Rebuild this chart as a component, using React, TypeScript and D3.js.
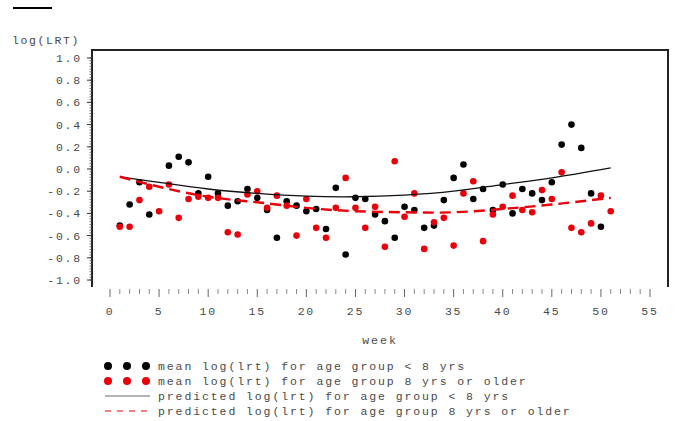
import React from 'react';
import * as d3 from 'd3';

// weekly means of log(lrt)
const weeks = d3.range(1, 52);
const youngMeans = [
  -0.51, -0.32, -0.12, -0.41, null, 0.03, 0.11, 0.06, -0.22, -0.07,
  -0.22, -0.33, -0.29, -0.18, -0.26, -0.37, -0.62, -0.29, -0.33, -0.38,
  -0.36, -0.54, -0.17, -0.77, -0.26, -0.27, -0.41, -0.47, -0.62, -0.34,
  -0.37, -0.53, -0.51, -0.28, -0.08, 0.04, -0.27, -0.18, -0.37, -0.14,
  -0.40, -0.18, -0.22, -0.28, -0.12, 0.22, 0.40, 0.19, -0.22, -0.52, null,
];
const olderMeans = [
  -0.52, -0.52, -0.28, -0.16, -0.38, -0.14, -0.44, -0.27, -0.25, -0.26,
  -0.26, -0.57, -0.59, -0.23, -0.20, -0.35, -0.24, -0.33, -0.60, -0.27,
  -0.53, -0.62, -0.35, -0.08, -0.35, -0.53, -0.34, -0.70, 0.07, -0.43,
  -0.22, -0.72, -0.48, -0.44, -0.69, -0.22, -0.11, -0.65, -0.41, -0.34,
  -0.24, -0.37, -0.39, -0.19, -0.27, -0.03, -0.53, -0.57, -0.49, -0.24, -0.38,
];

// predicted curves, sampled at a few weeks
const predWeeks = [1, 5, 10, 15, 20, 25, 30, 35, 40, 45, 51];
const youngPred = [-0.07, -0.12, -0.18, -0.22, -0.245, -0.25, -0.235, -0.2, -0.14, -0.08, 0.01];
const olderPred = [-0.07, -0.16, -0.25, -0.3, -0.35, -0.38, -0.39, -0.39, -0.36, -0.32, -0.26];

const yTicks = d3.range(-1, 1.0001, 0.2);
const xTicks = d3.range(0, 56, 5);

const legendItems = [
  { kind: 'dot', color: '#000', label: 'mean log(lrt) for age group < 8 yrs' },
  { kind: 'dot', color: '#e8000b', label: 'mean log(lrt) for age group 8 yrs or older' },
  { kind: 'solid', color: '#666', label: 'predicted log(lrt) for age group < 8 yrs' },
  { kind: 'dash', color: '#e8000b', label: 'predicted log(lrt) for age group 8 yrs or older' },
];

const font = '"Liberation Mono", "DejaVu Sans Mono", monospace';
const textColor = '#4a4a4a';

export default function App() {
  const width = 685;
  const height = 421;
  const x = d3.scaleLinear().domain([0, 55]).range([110, 650]);
  const y = d3.scaleLinear().domain([-1, 1]).range([280, 58]);

  const frameL = 92, frameR = 668, frameT = 50, frameB = 287;

  const line = d3.line<number>()
    .x((d, i) => x(predWeeks[i]))
    .y(d => y(d))
    .curve(d3.curveNatural);

  const minorY = d3.range(-1, 1.0001, 0.025);
  const minorX = d3.range(0, 56, 1);

  const fmt = (v: number) => (Math.abs(v) < 1e-9 ? '0.0' : d3.format('.1f')(v).replace('−', '-'));

  return (
    <svg width={width} height={height} style={{ position: 'absolute', left: 0, top: 0, background: '#fff' }}
      fontFamily={font} fontSize={11.5} fill={textColor}>
      <rect width={width} height={height} fill="#fff" />
      {/* stray line top-left */}
      <line x1={13} x2={52} y1={8} y2={8} stroke="#000" strokeWidth={2} />

      <text x={12} y={44} letterSpacing={1.6}>log(LRT)</text>

      {/* frame: top, left, right */}
      <path d={`M${frameL},${frameB}V${frameT}H${frameR}V${frameB}`} fill="none" stroke="#222" strokeWidth={2} />

      {/* y ticks */}
      {minorY.map((v, i) => (
        <line key={'my' + i} x1={frameL - 2.5} x2={frameL} y1={y(v)} y2={y(v)} stroke="#555" strokeWidth={0.8} />
      ))}
      {yTicks.map((v, i) => (
        <g key={'y' + i}>
          <line x1={frameL - 5} x2={frameL} y1={y(v)} y2={y(v)} stroke="#333" strokeWidth={1} />
          <text x={82} y={y(v)} dy="0.35em" textAnchor="end" letterSpacing={1.8}>{fmt(v)}</text>
        </g>
      ))}

      {/* x ticks */}
      {minorX.map(v => (
        <line key={'mx' + v} x1={x(v)} x2={x(v)} y1={289} y2={v % 5 === 0 ? 297 : 294}
          stroke={v % 5 === 0 ? '#666' : '#888'} strokeWidth={1} />
      ))}
      {xTicks.map(v => (
        <text key={'x' + v} x={x(v)} y={311} dy="0.35em" textAnchor="middle" letterSpacing={1.8}>{v}</text>
      ))}
      <text x={380} y={340} dy="0.35em" textAnchor="middle" letterSpacing={2}>week</text>

      {/* points */}
      {weeks.map((w, i) => youngMeans[i] == null ? null : (
        <circle key={'b' + w} cx={x(w)} cy={y(youngMeans[i] as number)} r={3.3} fill="#000" />
      ))}
      {weeks.map((w, i) => olderMeans[i] == null ? null : (
        <circle key={'r' + w} cx={x(w)} cy={y(olderMeans[i] as number)} r={3.3} fill="#e8000b" />
      ))}

      {/* predicted lines */}
      <path d={line(youngPred) || ''} fill="none" stroke="#111" strokeWidth={1.3} />
      <path d={line(olderPred) || ''} fill="none" stroke="#e8000b" strokeWidth={2.4} strokeDasharray="11 6" />

      {/* legend */}
      {legendItems.map((item, i) => {
        const cy = 366 + i * 15;
        return (
          <g key={'lg' + i}>
            {item.kind === 'dot' && [108, 127, 146].map(cx => (
              <circle key={cx} cx={cx} cy={cy} r={4} fill={item.color} />
            ))}
            {item.kind === 'solid' && (
              <line x1={105} x2={150} y1={cy} y2={cy} stroke={item.color} strokeWidth={1} />
            )}
            {item.kind === 'dash' && (
              <line x1={105} x2={150} y1={cy} y2={cy} stroke={item.color} strokeWidth={1} strokeDasharray="6 6" />
            )}
            <text x={158} y={cy} dy="0.35em" letterSpacing={1.9}>{item.label}</text>
          </g>
        );
      })}
    </svg>
  );
}
